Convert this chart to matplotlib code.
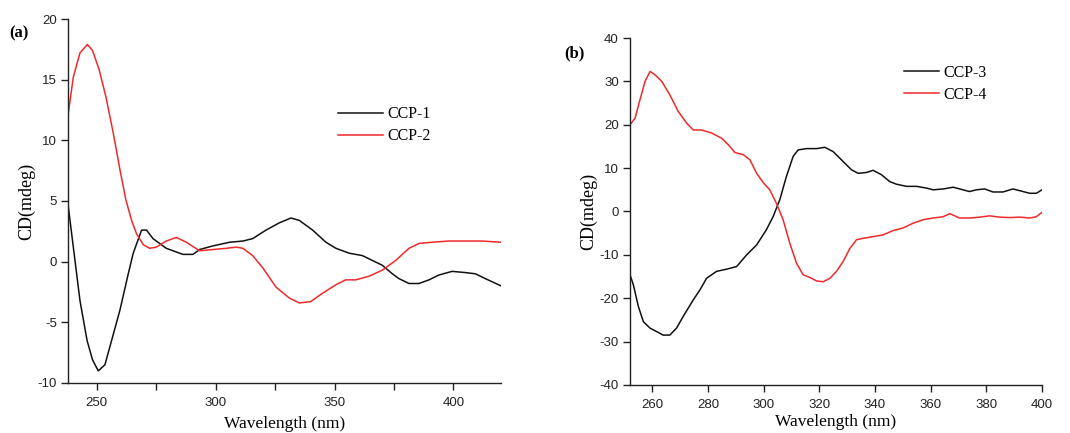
import matplotlib
matplotlib.use("Agg")
import matplotlib.pyplot as plt
from matplotlib.ticker import MultipleLocator

plt.rcParams["axes.unicode_minus"] = False

# ---- Data (a) ----
wl_ccp1 = [238, 243, 246, 248.3, 250.7, 253.5, 256.3, 259.8, 263.3, 265.4, 268.9, 271, 273.7,
           279.3, 286.3, 290.5, 293.3, 298.9, 305.9, 311.5, 315.6, 321.2, 326.8, 331.7, 335.2,
           340.8, 346.4, 350.6, 356.1, 361.7, 365.9, 370.1, 374.3, 377.1, 381.3, 385.5, 389.7,
           393.9, 399.4, 405, 409.2, 413.4, 420]
cd_ccp1 = [4.7, -3.2, -6.5, -8.1, -9.0, -8.5, -6.5, -4.0, -1.0, 0.7, 2.6, 2.6, 1.9,
           1.1, 0.6, 0.6, 1.0, 1.3, 1.6, 1.7, 1.9, 2.6, 3.2, 3.6, 3.4,
           2.6, 1.6, 1.1, 0.7, 0.5, 0.1, -0.3, -1.0, -1.4, -1.8, -1.8, -1.5,
           -1.1, -0.8, -0.9, -1.0, -1.4, -2.0]

wl_ccp2 = [238, 240.2, 243, 246.1, 248.3, 251.1, 253.9, 257, 259.8, 262.3, 264.7, 266.8, 269.6,
           272.3, 275.1, 279.3, 283.5, 287.7, 293.3, 298.9, 304.5, 308.7, 311.5, 315.6, 319.8,
           325.4, 331, 335.2, 339.9, 345, 350.6, 354.7, 358.9, 364.5, 370.1, 375.7, 381.3,
           385.5, 391, 398, 405, 412, 420]
cd_ccp2 = [12.1, 15.2, 17.2, 17.9, 17.4, 15.8, 13.6, 10.6, 7.6, 5.1, 3.4, 2.3, 1.4,
           1.1, 1.2, 1.7, 2.0, 1.6, 0.9, 1.0, 1.1, 1.2, 1.1, 0.5, -0.5,
           -2.1, -3.0, -3.4, -3.3, -2.6, -1.9, -1.5, -1.5, -1.2, -0.7, 0.1, 1.1,
           1.5, 1.6, 1.7, 1.7, 1.7, 1.6]

# ---- Data (b) ----
wl_ccp3 = [252, 253.2, 255, 256.8, 259.2, 261.6, 263.9, 266.3, 268.7, 271.1, 274.7, 277.1, 279.5,
           283.1, 286.7, 290.3, 293.9, 297.5, 301, 303.4, 305.8, 308.2, 310.6, 312.4, 315.4,
           319, 322, 325, 328.6, 331.6, 334, 337, 339.3, 342.3, 345.3, 347.7, 351.3, 354.9,
           358.5, 360.9, 364.5, 368.1, 371.6, 374, 376.4, 379.4, 382.4, 386, 389.6, 393.2,
           395.6, 398, 400]
cd_ccp3 = [-14.6, -16.9, -21.9, -25.4, -26.9, -27.7, -28.5, -28.5, -26.9, -24.2, -20.4, -18.1, -15.4,
           -13.8, -13.3, -12.7, -10.0, -7.7, -4.2, -1.2, 2.7, 8.1, 12.7, 14.2, 14.5,
           14.5, 14.8, 13.8, 11.5, 9.6, 8.8, 9.0, 9.5, 8.5, 6.9, 6.3, 5.8, 5.8,
           5.4, 5.0, 5.2, 5.6, 5.0, 4.6, 5.0, 5.2, 4.5, 4.5, 5.2, 4.6,
           4.2, 4.2, 5.0]

wl_ccp4 = [252, 253.8, 255.6, 257.4, 259.2, 261, 263.4, 266.3, 269.3, 272.3, 274.7, 277.7, 281.3,
           284.9, 287.3, 289.7, 292.7, 295.1, 297.5, 299.8, 302.2, 304.6, 307, 309.4, 311.8,
           314.2, 316.6, 319, 321.4, 323.8, 326.2, 328.6, 331, 333.4, 335.7, 339.3, 342.9,
           346.5, 350.1, 353.7, 357.3, 360.9, 364.5, 366.9, 370.4, 374, 377.6, 381.2, 384.8,
           388.4, 392, 395.6, 398, 400]
cd_ccp4 = [20.0, 21.5, 25.8, 30.0, 32.3, 31.5, 30.0, 26.9, 23.1, 20.4, 18.8, 18.8, 18.1,
           16.9, 15.4, 13.6, 13.1, 11.9, 8.8, 6.7, 5.0, 1.9, -1.9, -7.3, -11.9,
           -14.6, -15.2, -16.0, -16.2, -15.4, -13.8, -11.5, -8.5, -6.5, -6.2, -5.8, -5.4,
           -4.4, -3.8, -2.7, -1.9, -1.5, -1.2, -0.5, -1.5, -1.5, -1.3, -1.0, -1.3,
           -1.4, -1.3, -1.5, -1.2, -0.2]

labels_a = ["CCP-1", "CCP-2"]
labels_b = ["CCP-3", "CCP-4"]

BLACK = "#111111"
RED = "#ee2a2a"
SANS = ["Liberation Sans", "DejaVu Sans"]
SERIF = ["Liberation Serif", "DejaVu Serif"]

fig = plt.figure(figsize=(10.7, 4.33), dpi=100)
ax1 = fig.add_axes([0.0636, 0.1155, 0.4047, 0.8406])
ax2 = fig.add_axes([0.5888, 0.1109, 0.3850, 0.8013])


def style(ax):
    for s in ["top", "right"]:
        ax.spines[s].set_visible(False)
    for s in ["left", "bottom"]:
        ax.spines[s].set_linewidth(1.0)
        ax.spines[s].set_color("#222222")
    ax.tick_params(which="both", direction="out", length=5, width=1.0, colors="#222222",
                   labelsize=9.5, pad=3)
    ax.tick_params(axis="x", pad=5)
    for lab in ax.get_xticklabels() + ax.get_yticklabels():
        lab.set_family(SANS)


ax1.plot(wl_ccp1, cd_ccp1, color=BLACK, lw=1.1, label=labels_a[0])
ax1.plot(wl_ccp2, cd_ccp2, color=RED, lw=1.1, label=labels_a[1])
ax1.set_xlim(238, 420)
ax1.set_ylim(-10, 20)
ax1.xaxis.set_major_locator(MultipleLocator(50))
ax1.xaxis.set_minor_locator(MultipleLocator(25))
ax1.yaxis.set_major_locator(MultipleLocator(5))
style(ax1)
ax1.set_xlabel("Wavelength (nm)", family=SERIF, fontsize=12.5, labelpad=5)
ax1.set_ylabel("CD(mdeg)", family=SERIF, fontsize=13, labelpad=2)
ax1.legend(loc="upper left", bbox_to_anchor=(0.59, 0.8), frameon=False,
           prop={"family": SERIF, "size": 11.5}, handlelength=2.8,
           handletextpad=0.3, labelspacing=0.38)
fig.text(0.009, 0.913, "(a)", family=SERIF, fontsize=12, fontweight="bold")

ax2.plot(wl_ccp3, cd_ccp3, color=BLACK, lw=1.1, label=labels_b[0])
ax2.plot(wl_ccp4, cd_ccp4, color=RED, lw=1.1, label=labels_b[1])
ax2.set_xlim(252, 400)
ax2.set_ylim(-40, 40)
ax2.xaxis.set_major_locator(MultipleLocator(20))
ax2.yaxis.set_major_locator(MultipleLocator(10))
style(ax2)
ax2.set_xlabel("Wavelength (nm)", family=SERIF, fontsize=12.5, labelpad=2.5)
ax2.set_ylabel("CD(mdeg)", family=SERIF, fontsize=13, labelpad=2)
ax2.legend(loc="upper left", bbox_to_anchor=(0.63, 0.965), frameon=False,
           prop={"family": SERIF, "size": 11.5}, handlelength=2.2,
           handletextpad=0.3, labelspacing=0.38)
fig.text(0.527, 0.868, "(b)", family=SERIF, fontsize=12, fontweight="bold")

fig.savefig("out.png", dpi=100)
